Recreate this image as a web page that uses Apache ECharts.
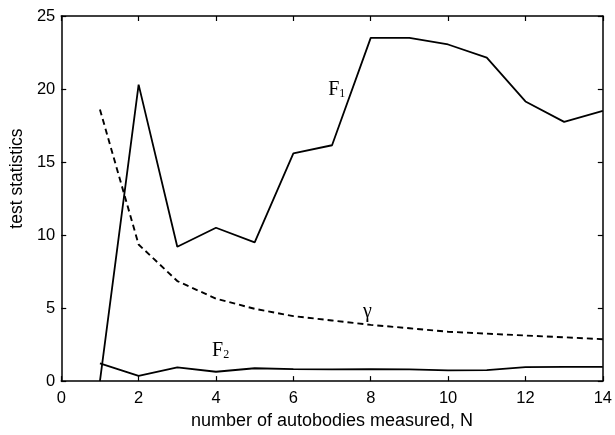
<!DOCTYPE html>
<html>
<head>
<meta charset="utf-8">
<script src="https://cdn.jsdelivr.net/npm/echarts@6/dist/echarts.min.js"></script>
<style>
html,body{margin:0;padding:0;background:#fff;}
#c{width:615px;height:435px;}
</style>
</head>
<body>
<div id="c"></div>
<script>
// ---- data ----
const N = [1, 2, 3, 4, 5, 6, 7, 8, 9, 10, 11, 12, 13, 14];
const F1 = [0, 20.3, 9.2, 10.5, 9.5, 15.6, 16.15, 23.5, 23.5, 23.05, 22.15, 19.15, 17.75, 18.5];
const gamma = [18.6, 9.35, 6.85, 5.65, 4.95, 4.45, 4.15, 3.85, 3.62, 3.38, 3.25, 3.12, 3.0, 2.87];
const F2 = [1.22, 0.36, 0.94, 0.64, 0.88, 0.82, 0.8, 0.82, 0.8, 0.73, 0.75, 0.96, 0.97, 0.98];
const xTicks = [0, 2, 4, 6, 8, 10, 12, 14];
const yTicks = [0, 5, 10, 15, 20, 25];
// curve annotation anchors (data coordinates)
const F1Label = [6.9, 19.95];
const gammaLabel = [7.8, 4.75];
const F2Label = [3.9, 2.08];

const pairs = (xs, ys) => xs.map((x, i) => [x, ys[i]]);
const serif = '"Liberation Serif", "DejaVu Serif", serif';
const sans = '"Liberation Sans", Arial, sans-serif';

const subRich = {
  F: { fontFamily: serif, fontSize: 20, color: '#000', lineHeight: 20, verticalAlign: 'top' },
  s: { fontFamily: serif, fontSize: 12, color: '#000', lineHeight: 10, verticalAlign: 'bottom' },
  g: { fontFamily: serif, fontSize: 20, color: '#000', lineHeight: 20 }
};

function anno(coord, text) {
  return {
    symbol: 'circle', symbolSize: 0, silent: true,
    label: { show: true, position: 'right', distance: 0, formatter: text, rich: subRich },
    data: [{ coord: coord }]
  };
}

const axisCommon = {
  type: 'value',
  axisLine: { show: true, onZero: false, lineStyle: { color: '#000', width: 1.5 } },
  axisTick: { show: true, inside: true, length: 5, lineStyle: { color: '#000', width: 1.2 } },
  splitLine: { show: false }
};

const chart = echarts.init(document.getElementById('c'), null, { renderer: 'canvas' });
chart.setOption({
  backgroundColor: '#fff',
  animation: false,
  grid: { left: 60, right: 11, top: 16, bottom: 53, containLabel: false },
  xAxis: [
    Object.assign({}, axisCommon, {
      min: xTicks[0], max: xTicks[xTicks.length - 1], interval: xTicks[1] - xTicks[0],
      position: 'bottom',
      axisLabel: { show: true, margin: 9, color: '#000', fontFamily: sans, fontSize: 16.5 },
      name: 'number of autobodies measured, N',
      nameLocation: 'middle', nameGap: 25,
      nameTextStyle: { color: '#000', fontFamily: sans, fontSize: 18 }
    }),
    Object.assign({}, axisCommon, {
      min: xTicks[0], max: xTicks[xTicks.length - 1], interval: xTicks[1] - xTicks[0],
      position: 'top', axisLabel: { show: false }
    })
  ],
  yAxis: [
    Object.assign({}, axisCommon, {
      min: yTicks[0], max: yTicks[yTicks.length - 1], interval: yTicks[1] - yTicks[0],
      position: 'left',
      axisLabel: { show: true, margin: 6, color: '#000', fontFamily: sans, fontSize: 16.5 },
      name: 'test statistics',
      nameLocation: 'middle', nameGap: 33,
      nameTextStyle: { color: '#000', fontFamily: sans, fontSize: 17.5, padding: [0, 0, 0, 40] }
    }),
    Object.assign({}, axisCommon, {
      min: yTicks[0], max: yTicks[yTicks.length - 1], interval: yTicks[1] - yTicks[0],
      position: 'right', axisLabel: { show: false }
    })
  ],
  series: [
    {
      name: 'F1', type: 'line', data: pairs(N, F1), showSymbol: false,
      lineStyle: { color: '#000', width: 1.8 },
      markPoint: anno(F1Label, '{F|F}{s|1}')
    },
    {
      name: 'gamma', type: 'line', data: pairs(N, gamma), showSymbol: false,
      lineStyle: { color: '#000', width: 1.9, type: [6, 4] },
      markPoint: anno(gammaLabel, '{g|γ}')
    },
    {
      name: 'F2', type: 'line', data: pairs(N, F2), showSymbol: false,
      lineStyle: { color: '#000', width: 1.8 },
      markPoint: anno(F2Label, '{F|F}{s|2}')
    }
  ]
});
</script>
</body>
</html>
